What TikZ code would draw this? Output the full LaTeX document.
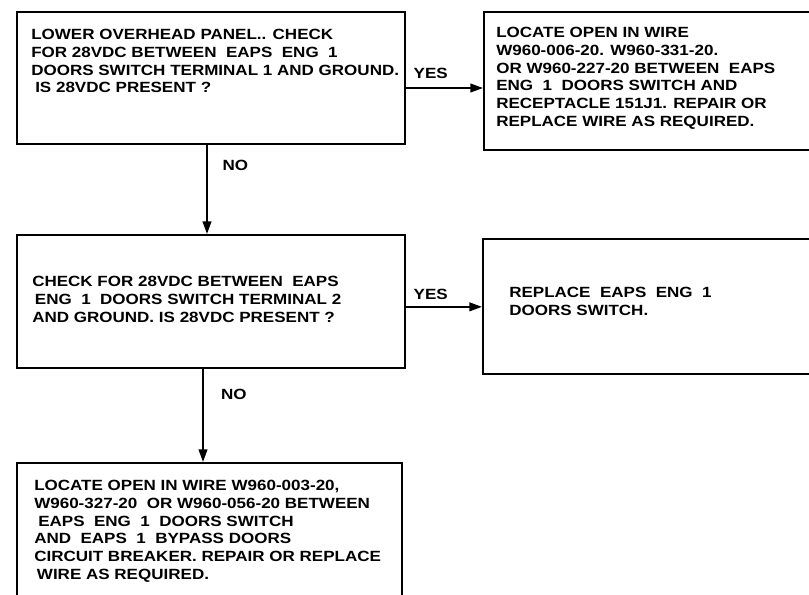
\documentclass[tikz,border=0pt]{standalone}
\usepackage{fontspec}
\setmainfont{Liberation Sans}[FakeStretch=1.15]
\usetikzlibrary{arrows.meta, positioning}

\begin{document}
\begin{tikzpicture}[x=0.75pt, y=-0.75pt,
	box/.style={draw, line width=1.5pt, rectangle, inner sep=0pt},
	txt/.style={align=left, anchor=north west, inner sep=0pt, font=\fontsize{11.1}{13.3}\selectfont\bfseries},
	lbl/.style={inner sep=0pt, font=\fontsize{11.1}{12}\selectfont\bfseries},
	wire/.style={line width=1.5pt, -{Triangle[length=9.5pt, width=6.5pt]}}]
	% Page frame:
	\useasboundingbox (0, 0) rectangle (809, 594);
	\clip (0, 0) rectangle (809, 594);
	% Boxes:
	\node[box, minimum width=291pt, minimum height=99pt] (chkone) at (211, 78){};
	\node[box, minimum width=259.5pt, minimum height=103.5pt] (wireone) at (657, 81){};
	\node[box, minimum width=291pt, minimum height=99.75pt] (chktwo) at (211, 301.5){};
	\node[box, minimum width=260.25pt, minimum height=101.25pt] (swrep) at (656.5, 306.5){};
	\node[box, minimum width=288.75pt, minimum height=117.75pt] (wiretwo) at (209.5, 541.5){};
	% Texts:
	\node[txt] (chkonetxt) at ([shift={(15, 18)}]chkone.north west){LOWER OVERHEAD PANEL.. CHECK\\FOR 28VDC BETWEEN\ \ EAPS\ \ ENG\ \ 1\\DOORS SWITCH TERMINAL 1 AND GROUND.\\\hspace{3pt}IS 28VDC PRESENT ?};
	\node[txt] (wireonetxt) at ([shift={(13, 16)}]wireone.north west){LOCATE OPEN IN WIRE\\W960-006-20. W960-331-20.\\OR W960-227-20 BETWEEN\ \ EAPS\\ENG\ \ 1\ \ DOORS SWITCH AND\\RECEPTACLE 151J1. REPAIR OR\\REPLACE WIRE AS REQUIRED.};
	\node[txt] (chktwotxt) at ([shift={(16, 42)}]chktwo.north west){CHECK FOR 28VDC BETWEEN\ \ EAPS\\\hspace{2pt}ENG\ \ 1\ \ DOORS SWITCH TERMINAL 2\\AND GROUND. IS 28VDC PRESENT ?};
	\node[txt] (swreptxt) at ([shift={(27, 49)}]swrep.north west){REPLACE\ \ EAPS\ \ ENG\ \ 1\\DOORS SWITCH.};
	\node[txt] (wiretwotxt) at ([shift={(18, 18)}]wiretwo.north west){LOCATE OPEN IN WIRE W960-003-20,\\W960-327-20\ \ OR W960-056-20 BETWEEN\\\hspace{3pt}EAPS\ \ ENG\ \ 1\ \ DOORS SWITCH\\AND\ \ EAPS\ \ 1\ \ BYPASS DOORS\\CIRCUIT BREAKER. REPAIR OR REPLACE\\\hspace{2pt}WIRE AS REQUIRED.};
	% Connectors:
	\draw[wire] ([yshift=-7.5pt]chkone.east) -- ([yshift=-7.5pt]chkone.east -| wireone.west) node[lbl, pos=0, anchor=south west, xshift=5pt, yshift=6pt] (yesone){YES};
	\draw[wire] ([xshift=-3pt]chkone.south) -- ([xshift=-3pt]chkone.south |- chktwo.north) node[lbl, pos=0, anchor=north west, xshift=11pt, yshift=-10.5pt] (noone){NO};
	\draw[wire] ([yshift=-4pt]chktwo.east) -- ([yshift=-4pt]chktwo.east -| swrep.west) node[lbl, pos=0, anchor=south west, xshift=5pt, yshift=5pt] (yestwo){YES};
	\draw[wire] ([xshift=-6pt]chktwo.south) -- ([xshift=-6pt]chktwo.south |- wiretwo.north) node[lbl, pos=0, anchor=north west, xshift=12.75pt, yshift=-14pt] (notwo){NO};
\end{tikzpicture}
\end{document}
